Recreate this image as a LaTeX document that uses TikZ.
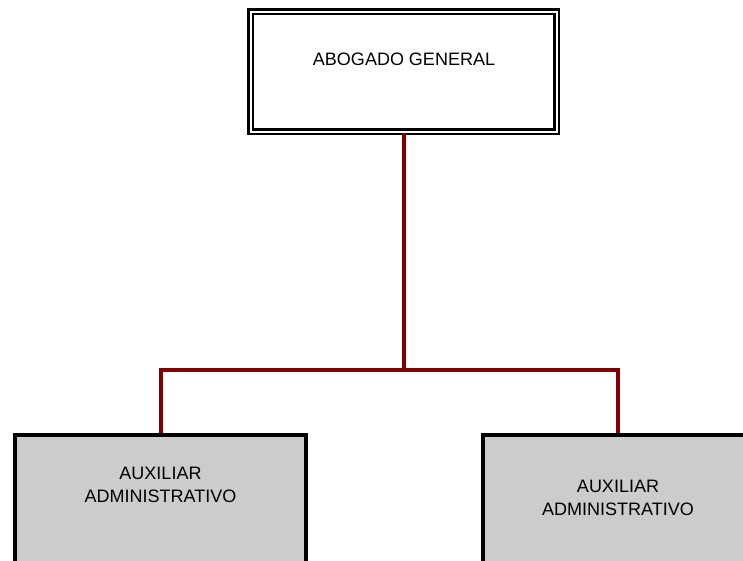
\documentclass[tikz,border=0pt]{standalone}
\usepackage{fontspec}
\setmainfont{Liberation Sans}
\begin{document}
\begin{tikzpicture}[x=1pt,y=-1pt,
  chiefbox/.style={draw=black, double=white, double distance=2pt, line width=2.5pt,
    fill=white, inner sep=0pt},
  auxbox/.style={draw=black, line width=4pt, fill=black!20, inner sep=0pt},
  conn/.style={draw=red!50!black, line width=4pt},
  lbl/.style={font=\fontsize{18}{23}\selectfont, align=center, inner sep=0pt}]
  \useasboundingbox (0,0) rectangle (743,560);

  % boxes
  \node[chiefbox, minimum width=306pt, minimum height=120pt] (chief) at (403.5,71.5) {};
  \node[auxbox, minimum width=291pt, minimum height=128pt] (auxa) at (160.5,499) {};
  \node[auxbox, minimum width=270pt, minimum height=128pt] (auxb) at (618,499) {};

  % labels
  \node[lbl] (chieftxt) at (404,59) {ABOGADO GENERAL};
  \node[lbl] (auxatxt) at (160.5,484.5) {AUXILIAR\\ADMINISTRATIVO};
  \node[lbl] (auxbtxt) at (618,497.5) {AUXILIAR\\ADMINISTRATIVO};

  % connectors
  \coordinate (bus) at (403.5,370);
  \draw[conn] (chief.south) -- (bus);
  \draw[conn] (auxa.north) |- (bus) -| (auxb.north);
\end{tikzpicture}
\end{document}
